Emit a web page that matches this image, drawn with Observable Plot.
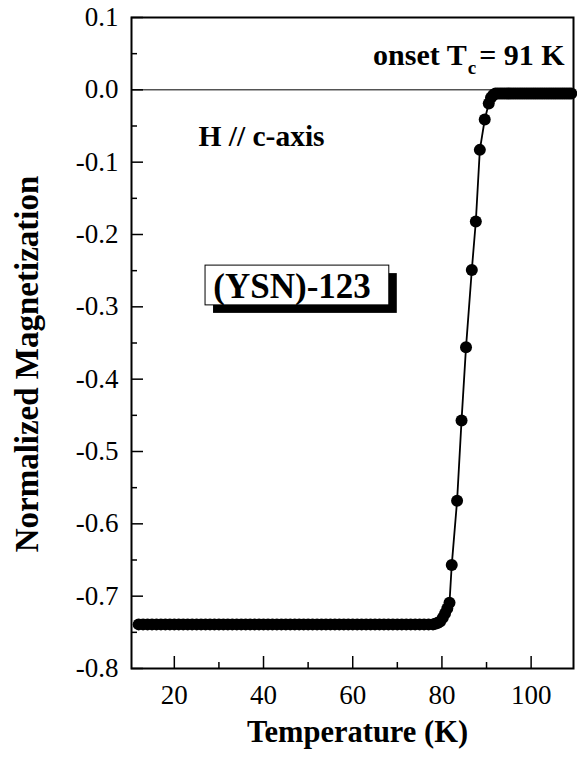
<!DOCTYPE html>
<html><head><meta charset="utf-8">
<script src="https://cdn.jsdelivr.net/npm/d3@7"></script>
<script src="https://cdn.jsdelivr.net/npm/@observablehq/plot@0.6"></script>
<style>
html,body{margin:0;padding:0;background:#fff}
#chart svg, #chart svg text{font-family:"Liberation Serif","DejaVu Serif","Times New Roman",serif !important;}
</style>
</head><body><div id="chart"></div>
<script>
const temperature = [
  12,13,14,15,16,17,18,19,20,21,
  22,23,24,25,26,27,28,29,30,31,
  32,33,34,35,36,37,38,39,40,41,
  42,43,44,45,46,47,48,49,50,51,
  52,53,54,55,56,57,58,59,60,61,
  62,63,64,65,66,67,68,69,70,71,
  72,73,74,75,76,77,78,
  78.5,79,79.6,80.2,80.7,81.2,81.7,
  82.2,83.4,84.4,85.4,86.7,87.6,88.5,89.6,90.5,
  91,91.5,92,92.5,93,93.5,94,94.5,95,95.5,
  96,96.5,97,97.5,98,98.5,99,99.5,100,100.5,
  101,101.5,102,102.5,103,103.5,104,104.5,105,105.5,
  106,106.5,107,107.5,108,108.5,109
];
const magnetization = [
  -0.739,-0.739,-0.739,-0.739,-0.739,-0.739,-0.739,-0.739,-0.739,-0.739,
  -0.739,-0.739,-0.739,-0.739,-0.739,-0.739,-0.739,-0.739,-0.739,-0.739,
  -0.739,-0.739,-0.739,-0.739,-0.739,-0.739,-0.739,-0.739,-0.739,-0.739,
  -0.739,-0.739,-0.739,-0.739,-0.739,-0.739,-0.739,-0.739,-0.739,-0.739,
  -0.739,-0.739,-0.739,-0.739,-0.739,-0.739,-0.739,-0.739,-0.739,-0.739,
  -0.739,-0.739,-0.739,-0.739,-0.739,-0.739,-0.739,-0.739,-0.739,-0.739,
  -0.739,-0.739,-0.739,-0.739,-0.739,-0.739,-0.739,
  -0.738,-0.737,-0.735,-0.730,-0.724,-0.717,-0.709,
  -0.657,-0.568,-0.457,-0.356,-0.249,-0.182,-0.083,-0.041,-0.019,
  -0.011,-0.007,-0.005,-0.005,-0.005,-0.005,-0.005,-0.005,-0.005,-0.005,
  -0.005,-0.005,-0.005,-0.005,-0.005,-0.005,-0.005,-0.005,-0.005,-0.005,
  -0.005,-0.005,-0.005,-0.005,-0.005,-0.005,-0.005,-0.005,-0.005,-0.005,
  -0.005,-0.005,-0.005,-0.005,-0.005,-0.005,-0.005
];
const xMajorTicks = [20, 40, 60, 80, 100];
const xMinorTicks = [30, 50, 70, 90];
const yMajorTicks = [0.1, 0.0, -0.1, -0.2, -0.3, -0.4, -0.5, -0.6, -0.7, -0.8];
const yMinorTicks = [0.05, -0.05, -0.15, -0.25, -0.35, -0.45, -0.55, -0.65, -0.75];
const xTitle = "Temperature (K)";
const yTitle = "Normalized Magnetization";
const sampleLabel = "(YSN)-123";
const fieldLabel = "H // c-axis";
const onsetLabel = "onset Tc = 91 K";

const data = temperature.map((t, i) => ({t, m: magnetization[i]}));
const serif = "'Liberation Serif', 'DejaVu Serif', 'Times New Roman', serif";

const W = 577, H = 762, ML = 131, MR = 4, MT = 17, MB = 94;
const frameW = W - ML - MR, frameH = H - MT - MB;
const majorLen = 12, minorLen = 6;

const chart = Plot.plot({
  width: W, height: H,
  marginLeft: ML, marginRight: MR, marginTop: MT, marginBottom: MB,
  style: {fontFamily: serif, background: "#fff", color: "#000"},
  x: {domain: [10.4, 109.5]},
  y: {domain: [-0.8, 0.1]},
  marks: [
    Plot.ruleY([0], {stroke: "#000", strokeWidth: 1}),
    Plot.axisX({ticks: xMajorTicks, tickSize: 0, tickPadding: 16, tickFormat: d => String(d), fontSize: 27, label: null}),
    Plot.axisY({ticks: yMajorTicks, tickSize: 0, tickPadding: 13, tickFormat: d => d.toFixed(1), fontSize: 27, label: null}),
    Plot.ruleX(xMajorTicks, {x: d => d, insetTop: frameH - majorLen, stroke: "#000", strokeWidth: 1.5}),
    Plot.ruleX(xMinorTicks, {x: d => d, insetTop: frameH - minorLen, stroke: "#000", strokeWidth: 1.5}),
    Plot.ruleY(yMajorTicks, {y: d => d, insetRight: frameW - majorLen, stroke: "#000", strokeWidth: 1.5}),
    Plot.ruleY(yMinorTicks, {y: d => d, insetRight: frameW - minorLen, stroke: "#000", strokeWidth: 1.5}),
    Plot.frame({stroke: "#000", strokeWidth: 2}),
    Plot.line(data, {x: "t", y: "m", stroke: "#000", strokeWidth: 1.8}),
    Plot.dot(data, {x: "t", y: "m", r: 6, fill: "#000", stroke: null}),
    Plot.rect([sampleLabel], {x1: 27.0, x2: 68.2, y1: -0.298, y2: -0.243, fill: "#000", dx: 8, dy: 8}),
    Plot.rect([sampleLabel], {x1: 27.0, x2: 68.2, y1: -0.298, y2: -0.243, fill: "#fff", stroke: "#000", strokeWidth: 1}),
    Plot.text([sampleLabel], {x: 46.4, y: -0.2726, text: d => d, fontSize: 35, fontWeight: "bold", fill: "#000"}),
    Plot.text([fieldLabel], {x: 25.4, y: -0.0646, text: d => d, textAnchor: "start", fontSize: 29.5, fontWeight: "bold", fill: "#000"}),
    Plot.text([onsetLabel], {x: 107.5, y: 0.047, text: d => d, textAnchor: "end", fontSize: 30, fontWeight: "bold", fill: "#000"}),
    Plot.text([xTitle], {frameAnchor: "bottom", lineAnchor: "middle", textAnchor: "middle", dx: 5, dy: 64, text: d => d, fontSize: 30.5, fontWeight: "bold", fill: "#000"}),
    Plot.text([yTitle], {frameAnchor: "left", lineAnchor: "middle", textAnchor: "middle", rotate: -90, dx: -104, dy: 21, text: d => d, fontSize: 33, fontWeight: "bold", fill: "#000"})
  ]
});
document.getElementById("chart").appendChild(chart);

// subscript "c" in the onset label
chart.querySelectorAll("text").forEach(t => {
  if (t.textContent === onsetLabel) {
    while (t.firstChild) t.removeChild(t.firstChild);
    const ns = "http://www.w3.org/2000/svg";
    const a = document.createElementNS(ns, "tspan"); a.textContent = "onset T";
    const b = document.createElementNS(ns, "tspan"); b.textContent = "c";
    b.setAttribute("font-size", "19"); b.setAttribute("dy", "0.45em"); b.setAttribute("dx", "1");
    const c = document.createElementNS(ns, "tspan"); c.textContent = "= 91 K";
    c.setAttribute("dy", "-0.29em"); c.setAttribute("dx", "3");
    t.append(a, b, c);
  }
});
</script>
</body></html>
